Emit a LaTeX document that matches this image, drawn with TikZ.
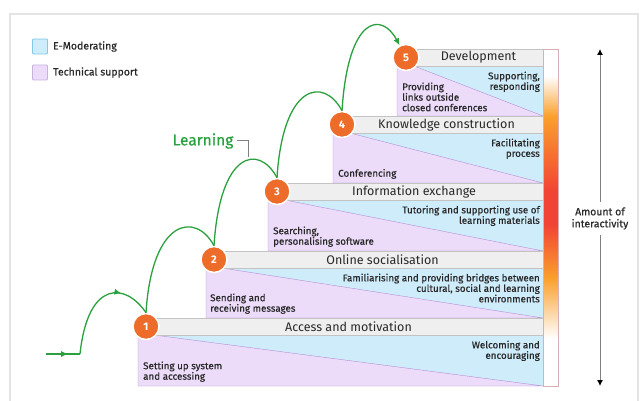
\documentclass[tikz,border=0pt]{standalone}
\usepackage{fontspec}
\setmainfont{Fira Sans}
\newfontfamily\mediumfont{Fira Sans}[FakeBold=0.6]
\usetikzlibrary{arrows.meta,positioning,decorations.markings}

\definecolor{moderate}{RGB}{207,236,251}
\definecolor{moderateline}{RGB}{130,200,235}
\definecolor{techsup}{RGB}{236,220,250}
\definecolor{techline}{RGB}{178,145,212}
\definecolor{headfill}{RGB}{239,239,239}
\definecolor{headline}{RGB}{195,195,195}
\definecolor{stepnum}{RGB}{237,108,42}
\definecolor{learn}{RGB}{42,160,62}
\definecolor{framegray}{RGB}{228,228,228}
\definecolor{barline}{RGB}{215,175,180}
\definecolor{barorange}{RGB}{250,160,45}
\definecolor{barred}{RGB}{242,68,52}
\definecolor{inktext}{RGB}{40,40,40}

\pgfdeclareverticalshading{interact}{100bp}{color(0bp)=(white); color(32bp)=(white);
  color(41bp)=(barorange); color(49bp)=(barred); color(54bp)=(barred);
  color(65bp)=(barorange); color(71bp)=(white); color(100bp)=(white)}

\begin{document}
\begin{tikzpicture}[x=1pt,y=-1pt,>={Latex[length=7pt,width=6pt]}]
  \tikzset{
    num/.style={circle,fill=stepnum,draw=white,line width=1.5pt,minimum size=26pt,
      inner sep=0pt,text=white,font=\bfseries\fontsize{11}{13}\selectfont},
    head/.style={text=inktext,font=\fontsize{12.5}{14}\selectfont},
    headbar/.style={fill=headfill,draw=headline,line width=0.6pt},
    modtext/.style={anchor=north east,align=right,inner sep=0pt,text=inktext,
      font=\mediumfont\fontsize{9.8}{10.5}\selectfont},
    techtext/.style={anchor=south west,align=left,inner sep=0pt,text=inktext,
      font=\mediumfont\fontsize{9.8}{10.5}\selectfont},
    legbox/.style={minimum size=15pt,inner sep=0pt,rounded corners=1pt,line width=0.8pt},
    legtext/.style={text=inktext,inner sep=0pt,font=\mediumfont\fontsize{10.5}{12}\selectfont},
    hop/.style={learn,line width=1.3pt},
    arrow at/.style={postaction={decorate},decoration={markings,
      mark=at position #1 with {\arrow{Latex[length=7pt,width=6pt]}}}}
  }
  \useasboundingbox (0,0) rectangle (641,401);
  \draw[framegray,line width=1.5pt] (10,401) -- (10,14) -- (638,14) -- (638,401);

  % legend
  \node[legbox,fill=moderate,draw=moderateline] (legmod) at (40,46.5) {};
  \node[legtext,right=5pt of legmod] (legmodtext) {E-Moderating};
  \node[legbox,fill=techsup,draw=techline!70] (legtech) at (40,72.5) {};
  \node[legtext,right=5pt of legtech] (legtechtext) {Technical support};

  % step bodies
  \fill[moderate] (138,335) rectangle (543,386);
  \filldraw[fill=techsup,draw=techline] (154,335) -- (543,386) -- (138,386) -- (138,335) -- cycle;
  \fill[moderate] (206,268) rectangle (543,318);
  \filldraw[fill=techsup,draw=techline] (222,268) -- (543,318) -- (206,318) -- (206,268) -- cycle;
  \fill[moderate] (268,200) rectangle (543,251);
  \filldraw[fill=techsup,draw=techline] (285,200) -- (543,251) -- (268,251) -- (268,200) -- cycle;
  \fill[moderate] (333,133) rectangle (543,183);
  \filldraw[fill=techsup,draw=techline] (350,133) -- (543,183) -- (333,183) -- (333,133) -- cycle;
  \fill[moderate] (397,66) rectangle (543,116);
  \filldraw[fill=techsup,draw=techline] (414,66) -- (543,116) -- (397,116) -- (397,66) -- cycle;

  % step headers
  \draw[headbar] (138,318) rectangle (543,335);
  \draw[headbar] (206,251) rectangle (543,268);
  \draw[headbar] (268,183) rectangle (543,200);
  \draw[headbar] (333,116) rectangle (543,133);
  \draw[headbar] (397,49) rectangle (543,66);
  \node[head] (h1) at (348.5,326.5) {Access and motivation};
  \node[head] (h2) at (382.5,259.5) {Online socialisation};
  \node[head] (h3) at (414,191.5) {Information exchange};
  \node[head] (h4) at (446.5,124.5) {Knowledge construction};
  \node[head] (h5) at (478.5,57.5) {Development};

  % step numbers
  \node[num] (c1) at (146,326.5) {1};
  \node[num] (c2) at (214,259.5) {2};
  \node[num] (c3) at (277,191.5) {3};
  \node[num] (c4) at (342,124.5) {4};
  \node[num] (c5) at (406,57.5) {5};

  % e-moderating and technical support texts
  \node[modtext] (mod1) at (540,340.5) {Welcoming and\\encouraging};
  \node[techtext] (tech1) at (143,382) {Setting up system\\and accessing};
  \node[modtext] (mod2) at (540,273.5) {Familiarising and providing bridges between\\cultural, social and learning\\environments};
  \node[techtext] (tech2) at (210,314) {Sending and\\receiving messages};
  \node[modtext] (mod3) at (540,205.5) {Tutoring and supporting use of\\learning materials};
  \node[techtext] (tech3) at (273,247) {Searching,\\personalising software};
  \node[modtext] (mod4) at (540,138.5) {Facilitating\\process};
  \node[techtext] (tech4) at (338,179) {Conferencing};
  \node[modtext] (mod5) at (540,71.5) {Supporting,\\responding};
  \node[techtext] (tech5) at (402,111.5) {Providing\\links outside\\closed conferences};

  % amount of interactivity
  \shade[shading=interact,draw=barline,line width=0.6pt] (543,49) rectangle (558,386);
  \node[text=inktext,align=center,inner sep=5pt,font=\mediumfont\fontsize{10.5}{12}\selectfont] (amount) at (600,218.5) {Amount of\\interactivity};
  \coordinate (moretop) at (600,49);
  \coordinate (morebot) at (600,386);
  \draw[gray,line width=0.9pt,-{Latex[length=6pt,width=6pt,color=black]}] (amount) -- (moretop);
  \draw[gray,line width=0.9pt,-{Latex[length=6pt,width=6pt,color=black]}] (amount) -- (morebot);

  % learning path
  \coordinate (start) at (46,354);
  \coordinate (launch) at (80,354);
  \coordinate (hoptop) at (248,157);
  \draw[hop,arrow at=0.65] (start) -- (launch);
  \draw[hop,arrow at=0.72] (launch) .. controls +(8,-75) and +(-20,-30) .. (c1.north);
  \draw[hop] (c1.north) .. controls +(6,-95) and +(-18,-34) .. (c2.north);
  \draw[hop] (c2.north) .. controls +(6,-95) and +(-18,-34) .. (c3.north);
  \draw[hop] (c3.north) .. controls +(6,-95) and +(-18,-34) .. (c4.north);
  \draw[hop,->] (c4.north) .. controls +(6,-95) and +(-18,-34) .. (c5.118);
  \node[text=learn,font=\mediumfont\fontsize{15.5}{17}\selectfont,inner sep=3pt] (learning) at (203,141) {Learning};
  \draw[gray,line width=1pt] (learning.east) -| (hoptop);
\end{tikzpicture}
\end{document}
